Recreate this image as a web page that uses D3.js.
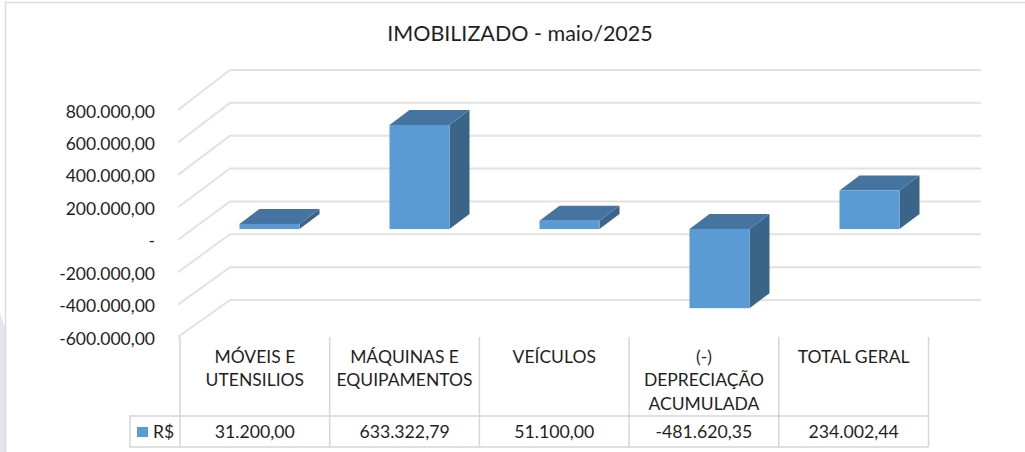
<!DOCTYPE html>
<html>
<head>
<meta charset="utf-8">
<script src="https://cdn.jsdelivr.net/npm/d3@7"></script>
<style>
html, body { margin: 0; padding: 0; background: #fff; overflow: hidden; }
text { font-family: Lato, "Open Sans", sans-serif; fill: #1f1f1f; }
</style>
</head>
<body>
<div id="chart"></div>
<script>
var categories = [["MÓVEIS E", "UTENSILIOS"], ["MÁQUINAS E", "EQUIPAMENTOS"], ["VEÍCULOS"], ["(-)", "DEPRECIAÇÃO", "ACUMULADA"], ["TOTAL GERAL"]],
    values = [31200.00, 633322.79, 51100.00, -481620.35, 234002.44],
    value_labels = ["31.200,00", "633.322,79", "51.100,00", "-481.620,35", "234.002,44"],
    y_ticks = [800000, 600000, 400000, 200000, 0, -200000, -400000, -600000],
    series_name = "R$",
    title = "IMOBILIZADO - maio/2025";

var width = 1025,
    height = 452,
    grid_color = "#e2e2e2",
    table_color = "#d6d6d6",
    bar_front = "#5b9bd5",
    bar_top = "#44749f",
    bar_side = "#3b6489";

var svg = d3.select("#chart").append("svg")
    .attr("width", width)
    .attr("height", height)
    .style("display", "block");

var locale = d3.formatLocale({decimal: ",", thousands: ".", grouping: [3], currency: ["R$", ""]}),
    fmt = locale.format(",.2f");

var yBack = d3.scaleLinear().domain([800000, -600000]).range([70, 300]),
    yFront = d3.scaleLinear().domain([800000, -600000]).range([110, 337]),
    yBar = d3.scaleLinear().domain([800000, -600000]).range([97.6, 327.6]),
    x = d3.scaleBand().domain(d3.range(categories.length)).range([180, 928.5]),
    xBar = d3.scaleBand().domain(d3.range(categories.length)).range([224.5, 974.5]);

// page background bits
svg.append("path").attr("d", "M0,313L5,327V452H0Z").attr("fill", "#e4e4ef");
svg.append("path").attr("d", "M5.5,452V2.5H1025").attr("fill", "none").attr("stroke", "#dcdcdc").attr("stroke-width", 1.5);

svg.append("text")
    .attr("x", 520).attr("y", 36)
    .attr("text-anchor", "middle").attr("dominant-baseline", "middle")
    .style("font-size", "21.5px")
    .text(title);

// walls, floor goes last so it meets the table
var grid = svg.append("g").selectAll("path")
    .data(y_ticks)
    .join("path")
    .attr("fill", "none")
    .attr("stroke", grid_color)
    .attr("stroke-width", 2)
    .attr("d", d => `M${x.range()[0] - 2},${yFront(d)}L230,${yBack(d)}H981`);

var axis = svg.append("g")
    .attr("transform", "translate(155,1.5)")
    .call(d3.axisLeft(yFront).tickValues(y_ticks).tickSize(0).tickPadding(0)
        .tickFormat(d => d == 0 ? "-" : fmt(d).replace("\u2212", "-")));
axis.select(".domain").remove();
axis.selectAll("text").style("font-size", "17.5px").attr("fill", "#1f1f1f");

// bars
var bar_w = 60, depth_x = 20, depth_y = 15;
var bars = svg.append("g").selectAll("g")
    .data(values)
    .join("g")
    .attr("transform", (d, i) => `translate(${xBar(i) + 15},0)`);

bars.append("path")
    .attr("fill", bar_side)
    .attr("d", d => {
        let a = yBar(Math.max(d, 0)), b = yBar(Math.min(d, 0));
        return `M${bar_w},${a}l${depth_x},${-depth_y}V${b - depth_y}l${-depth_x},${depth_y}Z`;
    });
bars.append("path")
    .attr("fill", bar_top)
    .attr("d", d => {
        let a = yBar(Math.max(d, 0));
        return `M0,${a}l${depth_x},${-depth_y}h${bar_w}l${-depth_x},${depth_y}Z`;
    });
bars.append("rect")
    .attr("fill", bar_front)
    .attr("width", bar_w)
    .attr("y", d => yBar(Math.max(d, 0)))
    .attr("height", d => Math.abs(yBar(d) - yBar(0)));

// data table
var table = svg.append("g").attr("stroke", table_color).attr("stroke-width", 1.5).attr("fill", "none");
var row_top = 416, row_bottom = 447, head_top = 337;
d3.range(categories.length + 1).forEach(function (i) {
    let px = x.range()[0] + i * x.bandwidth();
    table.append("line").attr("x1", px).attr("x2", px).attr("y1", head_top).attr("y2", row_bottom);
});
table.append("path").attr("d", `M${x.range()[1]},${row_top}H130V${row_bottom}H${x.range()[1]}`);

categories.forEach(function (lines, i) {
    lines.forEach(function (t, j) {
        svg.append("text")
            .attr("x", x(i) + x.bandwidth() / 2)
            .attr("y", 358.5 + j * 23.5)
            .attr("text-anchor", "middle").attr("dominant-baseline", "middle")
            .style("font-size", "17.5px")
            .text(t);
    });
});
value_labels.forEach(function (t, i) {
    svg.append("text")
        .attr("x", x(i) + x.bandwidth() / 2)
        .attr("y", 433.5)
        .attr("text-anchor", "middle").attr("dominant-baseline", "middle")
        .style("font-size", "17.7px")
        .text(t);
});

// legend key
svg.append("rect").attr("x", 137).attr("y", 427).attr("width", 11).attr("height", 10).attr("fill", bar_front);
svg.append("text")
    .attr("x", 153).attr("y", 433.5)
    .attr("dominant-baseline", "middle")
    .style("font-size", "17.5px")
    .text(series_name);
</script>
</body>
</html>
